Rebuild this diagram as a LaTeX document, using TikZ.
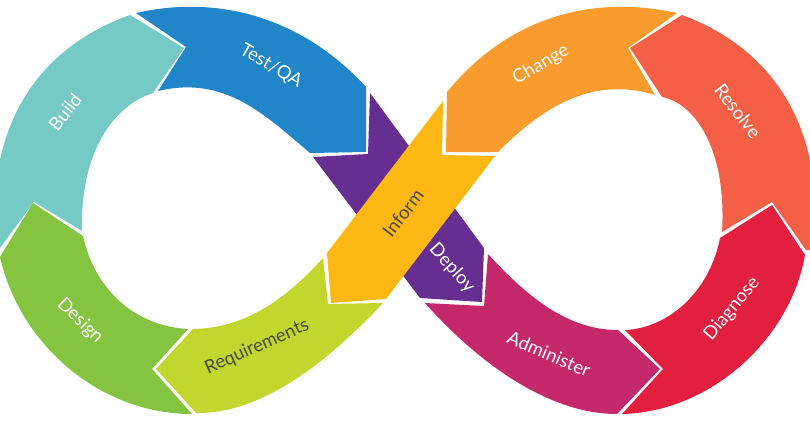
\documentclass[tikz,border=0pt]{standalone}
\usepackage{fontspec}
\setmainfont{Lato}
\definecolor{cBuild}{HTML}{76CAC6}
\definecolor{cTest}{HTML}{2086C9}
\definecolor{cDeploy}{HTML}{662E91}
\definecolor{cInform}{HTML}{FDB813}
\definecolor{cChange}{HTML}{F99B2D}
\definecolor{cResolve}{HTML}{F36045}
\definecolor{cDiagnose}{HTML}{E21F3F}
\definecolor{cAdmin}{HTML}{C6296B}
\definecolor{cDesign}{HTML}{84C441}
\definecolor{cReq}{HTML}{C1D72E}
\definecolor{cDark}{HTML}{4A4A3C}
\tikzset{
  lbl/.style={font=\fontsize{18.5}{18.5}\selectfont, inner sep=0pt, anchor=center},
  lblw/.style={lbl, text=white},
  lbld/.style={lbl, text=cDark}
}
\begin{document}
\begin{tikzpicture}[x=1pt,y=-1pt]
\useasboundingbox (0,0) rectangle (810,431);
\clip (0,0) rectangle (810,431);
% Deploy (under Inform)
\fill[cDeploy] (370,93) -- (484,248) -- (482,302) -- (420,298) -- (313,157) -- (368,154) -- cycle;
% Inform
\fill[cInform] (443,101) -- (442,155) -- (495,156) -- (386,299) -- (331,303) -- (327,253) -- cycle;
% Build
\fill[cBuild] (130,15) -- (184,48) -- (153,93)
  .. controls (115,105) and (80,150) .. (82,231)
  -- (34,202) -- (0,248) -- (-6,248)
  .. controls (-8,225) and (-6,190) .. (0,160)
  .. controls (15,90) and (60,40) .. (130,15) -- cycle;
% Test/QA
\fill[cTest] (136,13) -- (186,47) -- (158,91)
  .. controls (225,75) and (265,115) .. (310,153)
  -- (366,152) -- (366,87)
  .. controls (300,15) and (215,-5) .. (136,13) -- cycle;
% Change
\fill[cChange] (447,92) -- (446,152) -- (498,152)
  .. controls (540,110) and (590,75) .. (655,95)
  -- (628,48) -- (677,13)
  .. controls (595,-5) and (510,15) .. (447,92) -- cycle;
% Resolve
\fill[cResolve] (682,15) -- (630,48) -- (662,97)
  .. controls (695,103) and (727,150) .. (722,232)
  -- (772,202) -- (806,250) -- (814,250)
  .. controls (814,225) and (814,190) .. (810,160)
  .. controls (795,90) and (750,40) .. (682,15) -- cycle;
% Diagnose
\fill[cDiagnose] (772,205) -- (805,255)
  .. controls (790,340) and (710,412) .. (622,414)
  -- (663,369) -- (625,330)
  .. controls (670,328) and (710,290) .. (720,238) -- cycle;
% Administer
\fill[cAdmin] (488,254) -- (484,306) -- (425,303)
  .. controls (480,365) and (550,414) .. (617,414)
  -- (660,369) -- (618,330)
  .. controls (570,330) and (530,300) .. (488,254) -- cycle;
% Design
\fill[cDesign] (33,203) -- (83,236)
  .. controls (95,290) and (135,326) .. (188,329)
  -- (152,369) -- (192,414)
  .. controls (100,414) and (20,345) .. (0,257) -- cycle;
% Requirements
\fill[cReq] (193,329)
  .. controls (245,328) and (285,300) .. (323,258)
  -- (328,304) -- (383,303)
  .. controls (325,365) and (260,414) .. (196,413)
  -- (156,369) -- cycle;
% Labels
\node[lblw,rotate=-30] (test) at (271,66) {Test/QA};
\node[lblw,rotate=52] (build) at (65,112) {Build};
\node[lblw,rotate=-44] (design) at (80,321) {Design};
\node[lbld,rotate=24] (req) at (257,347) {Requirements};
\node[lbld,rotate=52] (inform) at (403,213) {Inform};
\node[lblw,rotate=-48] (deploy) at (452,268) {Deploy};
\node[lblw,rotate=-23] (admin) at (549,354) {Administer};
\node[lblw,rotate=50] (diag) at (732,309) {Diagnose};
\node[lblw,rotate=-52] (resolve) at (738,111) {Resolve};
\node[lblw,rotate=30] (change) at (541,65) {Change};
\end{tikzpicture}
\end{document}
